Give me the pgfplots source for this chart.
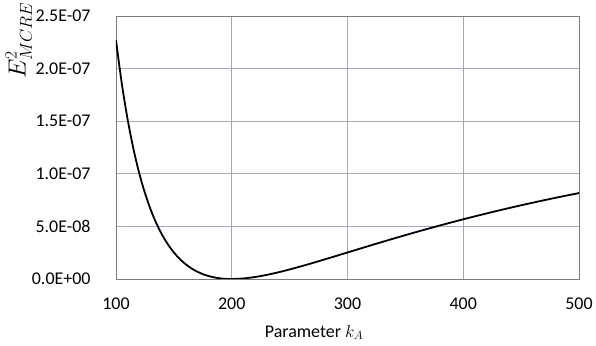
\documentclass[border=0pt]{standalone}
\usepackage{fontspec}
\setmainfont{Carlito}
\usepackage{pgfplots}
\pgfplotsset{compat=1.18}
\usepackage{pgfplotstable}
\definecolor{hgrid}{HTML}{A0AABD}
\definecolor{vgrid}{HTML}{A8A8A8}
\definecolor{axgray}{HTML}{7A7A7A}
\pgfplotstableread{
k E
100 2.270e-7
105 1.858e-7
110 1.520e-7
115 1.240e-7
120 1.009e-7
125 8.172e-8
130 6.582e-8
135 5.262e-8
140 4.169e-8
145 3.266e-8
150 2.522e-8
155 1.913e-8
160 1.419e-8
165 1.021e-8
170 7.069e-9
175 4.633e-9
180 2.803e-9
185 1.492e-9
190 6.29e-10
195 1.49e-10
200 0
210 5.15e-10
220 1.876e-9
230 3.862e-9
240 6.306e-9
250 9.08e-9
260 1.209e-8
270 1.526e-8
280 1.853e-8
290 2.186e-8
300 2.522e-8
320 3.192e-8
340 3.849e-8
360 4.484e-8
380 5.093e-8
400 5.675e-8
420 6.228e-8
440 6.754e-8
460 7.252e-8
480 7.724e-8
500 8.172e-8
}\datatable
\begin{document}
\begin{tikzpicture}
\useasboundingbox (-116bp,-67bp) rectangle (480bp,279bp);
\begin{axis}[
  at={(0,0)}, anchor=south west,
  scale only axis, width=463bp, height=263bp,
  xmin=100, xmax=500, ymin=0, ymax=2.5e-7,
  xtick={100,200,300,400,500},
  ytick={0,5e-8,1e-7,1.5e-7,2e-7,2.5e-7},
  yticklabels={0.0E+00,5.0E-08,1.0E-07,1.5E-07,2.0E-07,2.5E-07},
  scaled y ticks=false,
  xmajorgrids, ymajorgrids,
  major x grid style={draw=vgrid, line width=0.9bp},
  major y grid style={draw=hgrid, line width=0.9bp},
  axis line style={draw=axgray, line width=0.9bp},
  major tick length=0pt,
  /pgf/number format/assume math mode=true,
  tick label style={font=\fontsize{18}{21}\selectfont},
  xticklabel style={yshift=-15bp},
  yticklabel style={xshift=-22bp},
]
\addplot[black, line width=1.8bp, smooth, no markers] table[x=k, y=E] {\datatable};
\end{axis}
\node[anchor=base, font=\fontsize{18}{21}\selectfont, inner sep=0pt] at (198bp,-58bp) {Parameter $k_A$};
\node[rotate=90, anchor=south east, inner sep=0pt, font=\fontsize{24}{28}\selectfont] at (-84bp,277bp) {$E^2_{MCRE}$};
\end{tikzpicture}
\end{document}
